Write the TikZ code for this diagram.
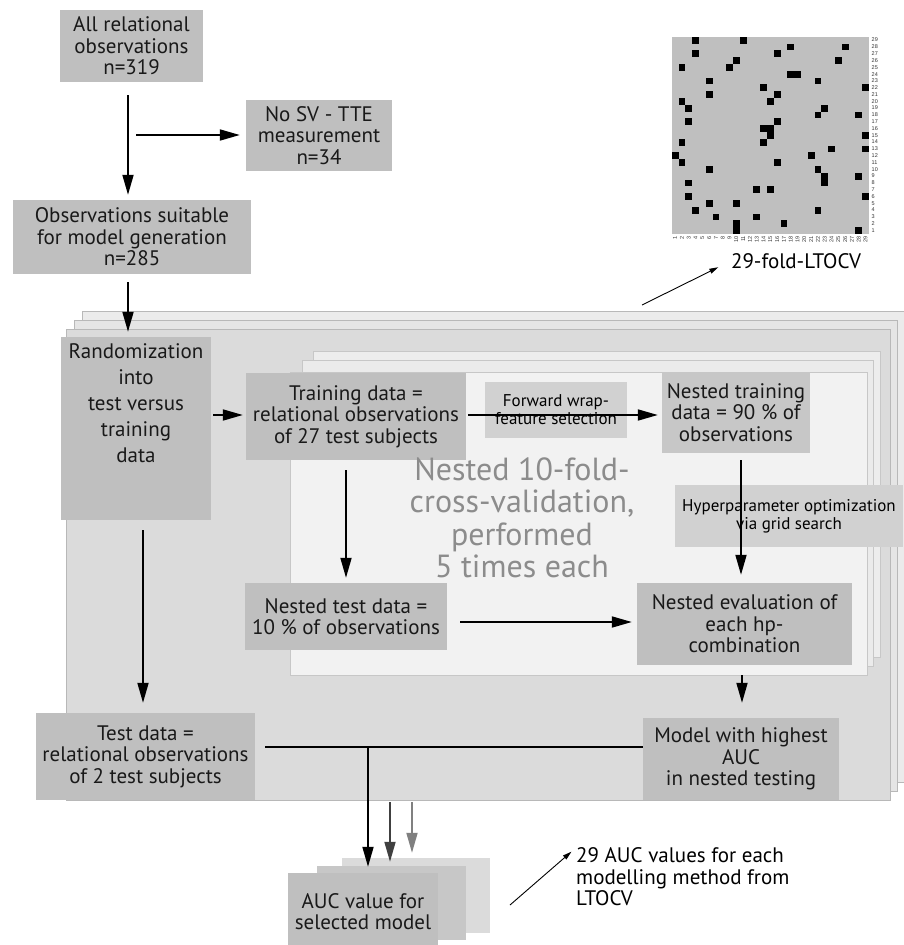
\documentclass[tikz,border=0pt]{standalone}
\usepackage{fontspec}
\setmainfont{PT Sans}
\newfontfamily\foldnumfont{Liberation Sans}
\usepackage{xcolor}
\usepackage{tikz}
\usetikzlibrary{
    arrows.meta,
    positioning,
    calc
}
\tikzset{
    stepbox/.style={
        fill=black!25,
        inner sep=0pt,
        align=center,
        text=black!90
    }
}
\tikzset{
    methodbox/.style={
        fill=black!18,
        inner sep=0pt,
        align=center,
        font=\fontsize{17}{18}\selectfont
    }
}
\tikzset{
    foldlayer/.style={
        fill=black!14,
        draw=black!28,
        line width=0.7pt
    }
}
\tikzset{
    nestedlayer/.style={
        fill=black!5,
        draw=black!22,
        line width=0.7pt
    }
}
\tikzset{
    flow/.style={
        draw=black,
        line width=1.8pt,
        shorten <=8pt,
        shorten >=5pt,
        -{Triangle[length=20pt,width=11pt]}
    }
}
\tikzset{
    flowline/.style={
        draw=black,
        line width=1.8pt
    }
}
\tikzset{
    pointer/.style={
        draw=black,
        line width=0.9pt,
        -{Triangle[length=9pt,width=5pt]}
    }
}
\tikzset{
    cvlabel/.style={
        text=black!45,
        align=center,
        inner sep=0pt,
        font=\fontsize{32}{32.5}\selectfont
    }
}
\tikzset{
    foldnum/.style={
        inner sep=0pt,
        text=black!80,
        font=\foldnumfont\fontsize{5.5}{5.5}\selectfont
    }
}

\begin{document}
\begin{tikzpicture}[
    x=1pt, y=-1pt,
    >=Latex,
    font=\fontsize{21}{21.5}\selectfont
]

\useasboundingbox (0,0) rectangle (903,945);

\fill[black!25] (671.7,36.7) rectangle (868.9,233.9);
\foreach \c/\r in {4/29,11/29,18/28,26/28,4/27,16/27,10/26,25/26,2/25,9/25,
    18/24,19/24,6/23,22/23,14/22,29/22,6/21,16/21,2/20,15/20,3/19,23/19,
    22/18,28/18,3/17,16/17,14/16,15/16,15/15,29/15,2/14,14/14,24/13,29/13,
    1/12,21/12,2/11,16/11,6/10,22/10,23/9,28/9,3/8,23/8,13/7,15/7,3/6,29/6,
    6/5,10/5,4/4,22/4,7/3,13/3,10/2,17/2,10/1,28/1}
    \fill ({671.7+(\c-1)*6.8},{36.7+(29-\r)*6.8}) rectangle ++(6.8,6.8);
\foreach \n in {1,...,29} {
    \node[foldnum, anchor=west] (row\n) at (871.5,{36.7+(29.5-\n)*6.8}) {\n};
    \node[foldnum, anchor=east, rotate=90] (col\n) at ({671.7+(\n-0.5)*6.8},236) {\n};
}
\node[inner sep=0pt] (foldtitle) at (796,261) {29-fold-LTOCV};

\node[stepbox, minimum width=143, minimum height=72] (allobs) at (131.5,46)
    {All relational\\observations\\n=319};
\node[stepbox, minimum width=146, minimum height=71] (nosv) at (319,135.5)
    {No SV - TTE\\measurement\\n=34};
\node[stepbox, minimum width=238, minimum height=74] (suitable) at (132,237)
    {Observations suitable\\for model generation\\n=285};

\draw[foldlayer, fill=black!8] (82,311) rectangle (906,782);
\draw[foldlayer, fill=black!10] (74,320) rectangle (897,791);
\draw[foldlayer] (66,329) rectangle (890,800);
\draw[nestedlayer, fill=black!7] (313,351) rectangle (880,657);
\draw[nestedlayer, fill=black!8] (302,360) rectangle (873,666);
\draw[nestedlayer] (290,372) rectangle (867,675);

\node[stepbox, minimum width=150, minimum height=183, font=\fontsize{21}{26}\selectfont] (rand) at (136,428.5)
    {Randomization\\into\\test versus\\training\\data\\[24pt]\mbox{}};
\node[stepbox, minimum width=220, minimum height=87] (training) at (356,416.5)
    {Training data =\\relational observations\\of 27 test subjects};
\node[methodbox, minimum width=142, minimum height=56] (wrapper) at (556,410)
    {Forward wrap-\\feature selection};
\node[stepbox, fill=black!22, minimum width=148, minimum height=81] (nestedtrain) at (736,412.5)
    {Nested training\\data = 90 \% of\\observations};
\node[methodbox, minimum width=228, minimum height=62] (hyper) at (789,516)
    {Hyperparameter optimization\\via grid search};
\node[cvlabel] (cvtext) at (522,518)
    {Nested 10-fold-\\cross-validation,\\performed\\5 times each};
\node[stepbox, minimum width=202, minimum height=67] (nestedtest) at (346,616.5)
    {Nested test data =\\10 \% of observations};
\node[stepbox, minimum width=215, minimum height=82] (nestedeval) at (744.5,624)
    {Nested evaluation of\\each hp-\\combination};
\node[stepbox, minimum width=219, minimum height=87] (testdata) at (145.5,756.5)
    {Test data =\\relational observations\\of 2 test subjects};
\node[stepbox, minimum width=196, minimum height=82] (model) at (741,759)
    {Model with highest\\AUC\\in nested testing};

\node[stepbox, fill=black!14, minimum width=148, minimum height=75] (auc3) at (416,895.5) {};
\node[stepbox, fill=black!22, minimum width=149, minimum height=74] (auc2) at (391.5,903) {};
\node[stepbox, minimum width=150, minimum height=77] (auc1) at (363,911.5)
    {AUC value for\\selected model};
\node[inner sep=0pt, align=left, anchor=west] (aucnote) at (576,877)
    {29 AUC values for each\\modelling method from\\LTOCV};

\draw[flow, shorten <=13pt] (allobs.south -| 128,0) -- (suitable.north -| 128,0);
\coordinate (branch) at (128,135);
\draw[flow, shorten >=6pt] (branch) -- (branch -| nosv.west);
\draw[flow, shorten >=5pt] (suitable.south -| 128,0) -- (rand.north -| 128,0);
\draw[flow, shorten <=2pt, shorten >=3pt] (rand.east |- 0,415) -- (training.west |- 0,415);
\draw[flow, shorten <=2pt, shorten >=4pt] (training.east |- 0,415) -- (nestedtrain.west |- 0,415);
\draw[flow, shorten <=10pt] (nestedtest |- training.south) -- (nestedtest.north);
\draw[flow, shorten <=13pt] (nestedtest.east |- 0,622) -- (nestedeval.west |- 0,622);
\draw[flow, shorten <=7pt, shorten >=8pt] (nestedtrain.south -| 741,0) -- (nestedeval.north -| 741,0);
\draw[flow, shorten <=10pt, shorten >=10pt] (rand.south -| 143,0) -- (testdata.north -| 143,0);
\draw[flow, shorten <=10pt, shorten >=15pt] (nestedeval.south -| 742,0) -- (model.north -| 742,0);

\coordinate (join) at (368,747);
\draw[flowline, shorten <=10pt] (testdata.east |- join) -- (model.west |- join);
\draw[flow, shorten <=0pt, shorten >=6pt] (join) -- (join |- auc1.north);
\coordinate (foldtap2) at (390,802);
\draw[flow, draw=black!75, shorten <=0pt, shorten >=4pt] (foldtap2) -- (foldtap2 |- auc2.north);
\coordinate (foldtap3) at (412,802);
\draw[flow, draw=black!50, shorten <=0pt, shorten >=5pt] (foldtap3) -- (foldtap3 |- auc3.north);

\coordinate (foldtail) at (642,305);
\draw[pointer, shorten >=14pt] (foldtail) -- (foldtitle.west);
\coordinate (auctail) at (510,905);
\draw[pointer, shorten >=6pt] (auctail) -- (aucnote.north west);

\end{tikzpicture}
\end{document}
